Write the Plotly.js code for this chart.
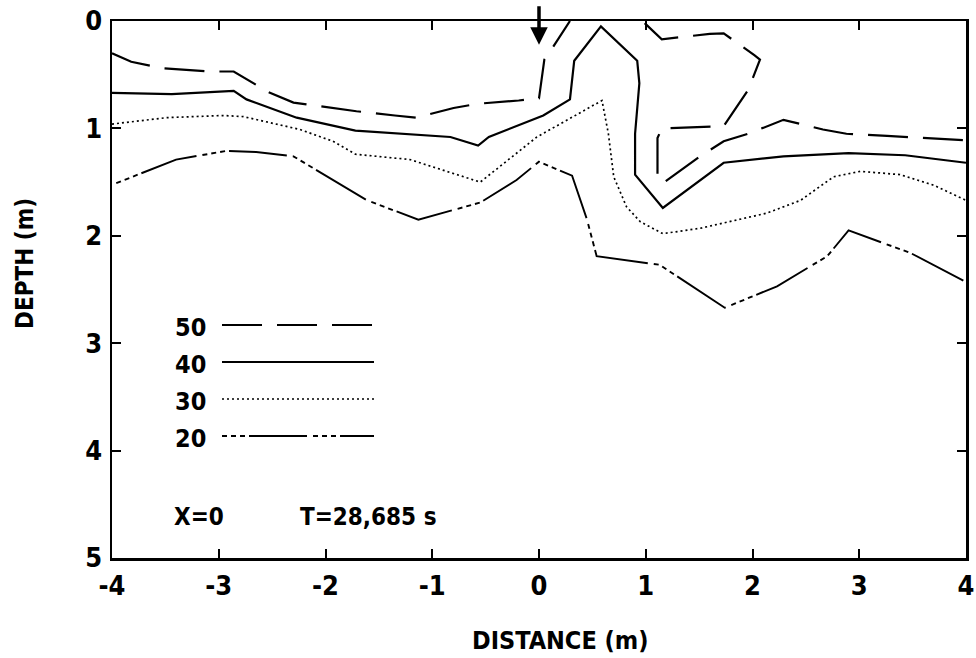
<!DOCTYPE html>
<html>
<head>
<meta charset="utf-8">
<script src="https://cdn.plot.ly/plotly-3.0.1.min.js"></script>
<style>html,body{margin:0;padding:0;background:#fff;}#chart{width:976px;height:658px;}</style>
</head>
<body>
<div id="chart"></div>
<script>
// Contour 50 (two branches)
const c50aX = [-4.0, -3.82, -3.52, -3.08, -2.86, -2.54, -2.30, -1.96, -1.71, -1.35, -1.15, -0.80, -0.57, -0.19, 0.00, 0.05, 0.10, 0.29];
const c50aY = [0.30, 0.38, 0.44, 0.47, 0.47, 0.66, 0.76, 0.81, 0.84, 0.88, 0.90, 0.81, 0.77, 0.74, 0.72, 0.36, 0.29, 0.0];
const c50bX = [0.99, 1.15, 1.60, 1.73, 2.02, 2.07, 1.96, 1.73, 1.15, 1.11, 1.11, 1.16, 1.51, 1.73, 1.96, 2.29, 2.66, 2.88, 3.26, 3.83, 4.0];
const c50bY = [0.02, 0.17, 0.12, 0.115, 0.32, 0.36, 0.64, 0.98, 1.00, 1.09, 1.45, 1.51, 1.26, 1.12, 1.05, 0.92, 1.01, 1.05, 1.07, 1.10, 1.11];
// Contour 40
const c40X = [-4.0, -3.44, -2.86, -2.74, -2.27, -1.72, -0.83, -0.57, -0.47, 0.04, 0.29, 0.33, 0.58, 0.92, 0.94, 0.90, 0.90, 1.16, 1.73, 2.29, 2.90, 3.43, 4.0];
const c40Y = [0.67, 0.68, 0.65, 0.73, 0.90, 1.02, 1.08, 1.16, 1.08, 0.88, 0.73, 0.37, 0.05, 0.37, 0.58, 1.05, 1.43, 1.74, 1.32, 1.26, 1.23, 1.25, 1.32];
// Contour 30
const c30X = [-4.0, -3.49, -2.96, -2.77, -2.24, -1.93, -1.72, -1.21, -0.55, -0.02, 0.59, 0.65, 0.70, 0.82, 0.95, 1.16, 1.51, 2.13, 2.45, 2.76, 3.01, 3.38, 3.70, 4.0];
const c30Y = [0.96, 0.90, 0.88, 0.89, 1.01, 1.12, 1.24, 1.29, 1.50, 1.08, 0.74, 1.05, 1.45, 1.73, 1.87, 1.98, 1.93, 1.79, 1.67, 1.45, 1.40, 1.43, 1.53, 1.67];
// Contour 20
const c20X = [-3.96, -3.40, -2.93, -2.65, -2.30, -1.61, -1.13, -0.55, -0.21, 0.00, 0.31, 0.45, 0.54, 1.13, 1.74, 2.23, 2.70, 2.90, 3.48, 4.0];
const c20Y = [1.51, 1.29, 1.21, 1.22, 1.26, 1.67, 1.85, 1.69, 1.48, 1.31, 1.44, 1.85, 2.19, 2.27, 2.67, 2.47, 2.19, 1.95, 2.16, 2.43];

const xTicks = [-4, -3, -2, -1, 0, 1, 2, 3, 4];
const yTicks = [0, 1, 2, 3, 4, 5];
const levelLabels = ['50', '40', '30', '20'];
const infoX = 'X=0';
const infoT = 'T=28,685 s';
const xTitle = 'DISTANCE (m)';
const yTitle = 'DEPTH (m)';

const FONT = "'Liberation Sans Narrow', 'DejaVu Sans Condensed', 'Arial Narrow', sans-serif";
const DASH50 = '40px,15px';
const DASH30 = '2px,3px';
const DASH20 = '5px,4px,5px,4px,5px,4px,58px,6px';

const traces = [
  {x: c50aX, y: c50aY, mode: 'lines', line: {color: '#000', width: 2.2, dash: DASH50}},
  {x: c50bX, y: c50bY, mode: 'lines', line: {color: '#000', width: 2.2, dash: DASH50}},
  {x: c40X, y: c40Y, mode: 'lines', line: {color: '#000', width: 2.2}},
  {x: c30X, y: c30Y, mode: 'lines', line: {color: '#000', width: 1.7, dash: DASH30}},
  {x: c20X, y: c20Y, mode: 'lines', line: {color: '#000', width: 1.9, dash: DASH20}}
];

// legend key layout in paper coords
const W = 854, H = 537, L = 112, T = 21;
const px = v => (v - L) / W;
const py = v => 1 - (v - T) / H;
const keyY = [325, 362, 399, 436];
const keyDash = [DASH50, 'solid', DASH30, DASH20];
const keyW = [2.2, 2.2, 1.7, 1.9];
const shapes = [];
const annotations = [];
levelLabels.forEach((lab, i) => {
  shapes.push({type: 'line', xref: 'paper', yref: 'paper', x0: px(222), x1: px(374), y0: py(keyY[i]), y1: py(keyY[i]),
    line: {color: '#000', width: keyW[i], dash: keyDash[i]}});
  annotations.push({xref: 'paper', yref: 'paper', x: px(208), y: py(keyY[i] + 2), xanchor: 'right', yanchor: 'middle',
    text: lab, showarrow: false, font: {family: FONT, size: 25, color: '#000', weight: 'bold'}});
});
annotations.push({xref: 'paper', yref: 'paper', x: px(172), y: py(517), xanchor: 'left', yanchor: 'middle',
  text: infoX, showarrow: false, font: {family: FONT, size: 24, color: '#000', weight: 'bold'}});
annotations.push({xref: 'paper', yref: 'paper', x: px(298), y: py(517), xanchor: 'left', yanchor: 'middle',
  text: infoT, showarrow: false, font: {family: FONT, size: 24, color: '#000', weight: 'bold'}});
// axis titles
annotations.push({xref: 'paper', yref: 'paper', x: px(560), y: py(641), xanchor: 'center', yanchor: 'middle',
  text: xTitle, showarrow: false, font: {family: FONT, size: 25, color: '#000', weight: 'bold'}});
annotations.push({xref: 'paper', yref: 'paper', x: px(25), y: py(264), xanchor: 'center', yanchor: 'middle', textangle: -90,
  text: yTitle, showarrow: false, font: {family: FONT, size: 24, color: '#000', weight: 'bold'}});
// arrow at x = 0
annotations.push({x: 0, y: 0.22, xref: 'x', yref: 'y', text: '', showarrow: true, ax: 0, ay: -40,
  arrowhead: 2, arrowsize: 1, arrowwidth: 3.5, arrowcolor: '#000'});

const axisCommon = {
  showgrid: false, zeroline: false, showline: true, linecolor: '#000', linewidth: 2.5,
  mirror: 'ticks', ticks: 'inside', ticklen: 9, tickwidth: 2, tickcolor: '#000',
  tickfont: {family: FONT, size: 27, color: '#000', weight: 'bold'}
};

const layout = {
  width: 976, height: 658,
  margin: {l: 112, r: 10, t: 21, b: 100},
  paper_bgcolor: '#fff', plot_bgcolor: '#fff',
  showlegend: false,
  xaxis: Object.assign({}, axisCommon, {range: [-4, 4], tickvals: xTicks, ticktext: xTicks.map(String), ticklabelstandoff: 2}),
  yaxis: Object.assign({}, axisCommon, {range: [5, 0], tickvals: yTicks, ticktext: yTicks.map(String), ticklabelstandoff: 2}),
  shapes: shapes,
  annotations: annotations
};

Plotly.newPlot('chart', traces, layout, {displayModeBar: false, staticPlot: true});
</script>
</body>
</html>
